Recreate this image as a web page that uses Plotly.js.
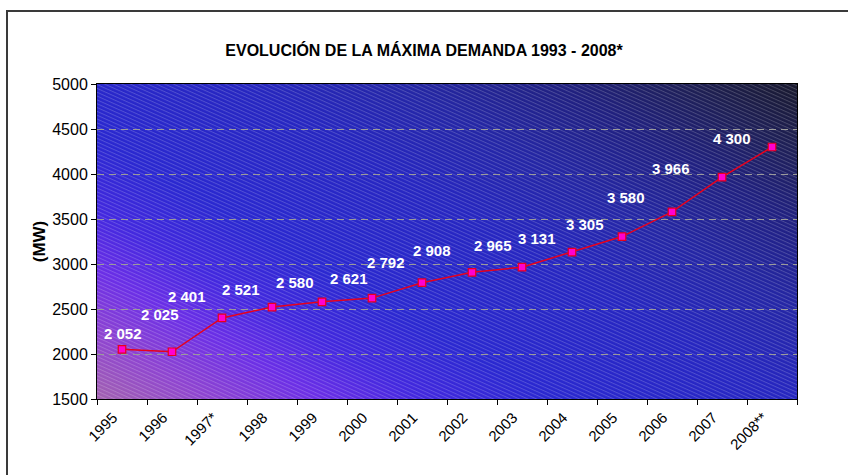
<!DOCTYPE html>
<html>
<head>
<meta charset="utf-8">
<script src="https://cdn.plot.ly/plotly-3.0.1.min.js"></script>
<style>
html,body{margin:0;padding:0;background:#fff;}
#chart{width:848px;height:475px;}
</style>
</head>
<body>
<div id="chart"></div>
<script>
// ---- data ----
var years = ["1995","1996","1997*","1998","1999","2000","2001","2002","2003","2004","2005","2006","2007","2008**"];
var demandMW = [2052, 2025, 2401, 2521, 2580, 2621, 2792, 2908, 2965, 3131, 3305, 3580, 3966, 4300];
var yTicks = [1500, 2000, 2500, 3000, 3500, 4000, 4500, 5000];

// label offsets in pixels (dx right, dy down) relative to each point
var labelOffsets = [[1,-16],[-12,-37],[-35,-21],[-31,-18],[-27,-19],[-23,-20],[-36,-20],[-40,-22],[-29,-22],[-35,-14],[-37,-12],[-46,-14],[-51,-9],[-40,-9]];

function fmt(v){
  var th = Math.floor(v/1000), r = v % 1000;
  return th + " " + ("00" + r).slice(-3);
}

var bgSvg =
 '<svg xmlns="http://www.w3.org/2000/svg" width="700" height="315" viewBox="0 0 700 315">' +
 '<defs>' +
 '<linearGradient id="g" x1="0" y1="315" x2="312" y2="-228" gradientUnits="userSpaceOnUse">' +
 '<stop offset="0" stop-color="#a262b0"/>' +
 '<stop offset="0.09" stop-color="#8e44d0"/>' +
 '<stop offset="0.18" stop-color="#6a2ee6"/>' +
 '<stop offset="0.26" stop-color="#4228de"/>' +
 '<stop offset="0.36" stop-color="#2a28d0"/>' +
 '<stop offset="0.55" stop-color="#2626c0"/>' +
 '<stop offset="0.68" stop-color="#2426a4"/>' +
 '<stop offset="0.80" stop-color="#202080"/>' +
 '<stop offset="0.90" stop-color="#1e1f56"/>' +
 '<stop offset="1" stop-color="#18182a"/>' +
 '</linearGradient>' +
 '<pattern id="p" width="3.5" height="3.5" patternUnits="userSpaceOnUse" patternTransform="rotate(24)">' +
 '<rect x="0" y="0" width="3.5" height="1" fill="#ffffff" fill-opacity="0.19"/>' +
 '</pattern>' +
 '</defs>' +
 '<rect width="700" height="315" fill="url(#g)"/>' +
 '<rect width="700" height="315" fill="url(#p)"/>' +
 '</svg>';
var bgUri = "data:image/svg+xml;charset=utf-8," + encodeURIComponent(bgSvg);

var trace = {
  type: "scatter",
  mode: "lines+markers",
  x: years,
  y: demandMW,
  line: {color: "#e8001c", width: 1.5},
  marker: {symbol: "square", size: 7.5, color: "#ff00d0", line: {color: "#e8001c", width: 1.2}},
  hoverinfo: "x+y",
  showlegend: false
};

var annotations = demandMW.map(function(v, i){
  return {
    x: i, y: v, xref: "x", yref: "y",
    text: fmt(v), showarrow: false,
    xshift: labelOffsets[i][0], yshift: -labelOffsets[i][1],
    font: {family: "Arial, Liberation Sans, sans-serif", size: 15, color: "#ffffff", weight: "bold"}
  };
});

var layout = {
  width: 848, height: 475,
  paper_bgcolor: "#ffffff",
  plot_bgcolor: "rgba(0,0,0,0)",
  margin: {l: 97, r: 51, t: 84, b: 76, pad: 0},
  title: {
    text: "<b>EVOLUCIÓN DE LA MÁXIMA DEMANDA 1993 - 2008*</b>",
    font: {family: "Arial, Liberation Sans, sans-serif", size: 16, color: "#000000"},
    x: 0.5, xanchor: "center", y: 1 - 50/475, yanchor: "middle"
  },
  xaxis: {
    type: "category",
    range: [-0.5, 13.5],
    tickson: "boundaries",
    ticks: "outside", ticklen: 5, tickcolor: "#000",
    tickangle: -45,
    ticklabelshift: -9,
    ticklabelstandoff: 3,
    tickfont: {family: "Arial, Liberation Sans, sans-serif", size: 15, color: "#000"},
    showline: true, linecolor: "#000", linewidth: 1, mirror: true,
    showgrid: false, zeroline: false, fixedrange: true
  },
  yaxis: {
    range: [1500, 5000],
    tickvals: yTicks,
    ticktext: yTicks.map(String),
    ticks: "outside", ticklen: 5, tickcolor: "#000",
    tickfont: {family: "Arial, Liberation Sans, sans-serif", size: 16, color: "#000"},
    showline: true, linecolor: "#000", linewidth: 1, mirror: true,
    showgrid: true, gridcolor: "#9a9a9a", gridwidth: 1, griddash: "7px,5px",
    zeroline: false, fixedrange: true,
    title: {text: "<b>(MW)</b>", font: {family: "Arial, Liberation Sans, sans-serif", size: 17, color: "#000"}, standoff: 2}
  },
  images: [{
    source: bgUri, xref: "paper", yref: "paper",
    x: 0, y: 1, sizex: 1, sizey: 1, sizing: "stretch",
    xanchor: "left", yanchor: "top", layer: "below"
  }],
  shapes: [{
    type: "rect", xref: "paper", yref: "paper",
    x0: (7 - 97) / 700, x1: (860 - 97) / 700,
    y0: (399 - 500) / 315, y1: (399 - 11) / 315,
    line: {color: "#3a3a3a", width: 2}, fillcolor: "rgba(0,0,0,0)", layer: "below"
  }],
  annotations: annotations
};

Plotly.newPlot("chart", [trace], layout, {displayModeBar: false, staticPlot: true});
</script>
</body>
</html>
